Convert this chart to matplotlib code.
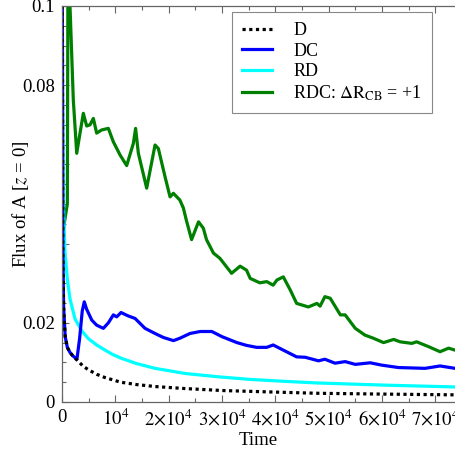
import matplotlib
matplotlib.use("Agg")
import matplotlib.pyplot as plt
from matplotlib.ticker import FixedLocator, MultipleLocator

plt.rcParams["font.family"] = ["Liberation Serif", "DejaVu Serif"]
plt.rcParams["mathtext.fontset"] = "stix"

# D (dotted black)
t_d = [0, 150, 300, 600, 1000, 1500, 2000, 2800, 4000, 5000, 6500, 8000, 11000,
       14000, 17500, 23000, 30000, 40000, 48000, 60000, 74000]
v_d = [0.15, 0.04, 0.024, 0.0165, 0.0138, 0.0125, 0.0117, 0.0106, 0.0090, 0.0081,
       0.0070, 0.0062, 0.0050, 0.0044, 0.0039, 0.0034, 0.0029, 0.0025, 0.0022,
       0.0020, 0.0018]

# DC (blue)
t_dc = [0, 150, 300, 600, 1000, 1500, 2000, 2800, 3300, 3800, 4180, 4600, 5570,
        6500, 7750, 8700, 9630, 10260, 11070, 12300, 13700, 15570, 17450, 19000,
        20900, 22100, 24000, 25900, 28100, 30000, 32800, 34600, 36500, 38400,
        39600, 41500, 44000, 45600, 48100, 49300, 51200, 53100, 55000, 57800,
        60000, 63100, 68100, 70900, 73700]
v_dc = [0.15, 0.04, 0.024, 0.0165, 0.0138, 0.0125, 0.0117, 0.0108, 0.016, 0.023,
        0.0253, 0.0235, 0.0207, 0.0194, 0.0186, 0.0200, 0.0220, 0.0215, 0.0226,
        0.0218, 0.0211, 0.0186, 0.0173, 0.0163, 0.0155, 0.0161, 0.0173, 0.0178,
        0.0178, 0.0165, 0.0150, 0.0143, 0.0138, 0.0138, 0.0144, 0.0131, 0.0114,
        0.0113, 0.0104, 0.0108, 0.0098, 0.0102, 0.0095, 0.0099, 0.0093, 0.0087,
        0.0085, 0.0091, 0.0085]

# RD (cyan)
t_rd = [0, 100, 250, 560, 1000, 1500, 2440, 3690, 4940, 6500, 8070, 9500, 11200,
        14000, 17450, 23100, 29000, 35300, 42000, 48000, 55000, 62000, 68000, 73700]
v_rd = [0.15, 0.08, 0.05, 0.038, 0.031, 0.026, 0.021, 0.018, 0.016, 0.0144, 0.0131,
        0.0120, 0.0110, 0.0097, 0.0085, 0.0072, 0.0064, 0.0057, 0.0052, 0.0048,
        0.0045, 0.0042, 0.0040, 0.0038]

# RDC (green)
t_rdc = [300, 1000, 1150, 1500, 2120, 2760, 3380, 4000, 4630, 5250, 5880,
         6500, 7440, 8690, 9630, 10880, 12130, 13380, 13800, 14320, 15880, 17450,
         18070, 19320, 20260, 20890, 22100, 22760, 23300, 24300, 25600, 26500,
         27100, 28400, 29600, 31800, 33400, 34600, 35300, 37100, 38400, 39600,
         40300, 41500, 42800, 44000, 46200, 47800, 48400, 49300, 50300, 52200,
         53100, 55000, 56800, 58400, 60300, 62200, 63400, 65600, 66500, 68700,
         70900, 72500, 73700]
v_rdc = [0.044, 0.050, 0.125, 0.100, 0.0763, 0.0628, 0.0679, 0.0729, 0.0697,
         0.0700, 0.0716, 0.0679, 0.0687, 0.0691, 0.0657, 0.0624, 0.0597, 0.0653,
         0.0691, 0.0628, 0.0540, 0.0649, 0.0640, 0.0569, 0.0518, 0.0527, 0.0510,
         0.0490, 0.0460, 0.0410, 0.0455, 0.0439, 0.0410, 0.0376, 0.0363, 0.0325,
         0.0343, 0.0333, 0.0312, 0.0301, 0.0304, 0.0295, 0.0308, 0.0316, 0.0283,
         0.0249, 0.0240, 0.0249, 0.0242, 0.0266, 0.0262, 0.0220, 0.0220, 0.0186,
         0.0169, 0.0161, 0.0150, 0.0158, 0.0152, 0.0148, 0.0152, 0.0140, 0.0127,
         0.0136, 0.0131]

x_ticks = [0, 10000, 20000, 30000, 40000, 50000, 60000, 70000]
x_labels = ["0", r"$10^4$", r"$2{\times}10^4$", r"$3{\times}10^4$", r"$4{\times}10^4$",
            r"$5{\times}10^4$", r"$6{\times}10^4$", r"$7{\times}10^4$"]
y_ticks = [0, 0.02, 0.04, 0.06, 0.08, 0.1]
y_labels = ["0", "0.02", "", "", "0.08", "0.1"]

fig = plt.figure(figsize=(4.55, 4.57), dpi=100)
ax = fig.add_axes([62 / 455, 55 / 457, 1 - 62 / 455, 396 / 457])

lw = 2.3
l4, = ax.plot(t_rdc, v_rdc, color="#008000", lw=lw)
l3, = ax.plot(t_rd, v_rd, color="#00ffff", lw=lw)
l2, = ax.plot(t_dc, v_dc, color="#0000ff", lw=lw)
l1, = ax.plot(t_d, v_d, color="black", lw=lw, linestyle=(0, (1, 1.1)))

ax.set_xlim(0, 73700)
ax.set_ylim(0, 0.1)

ax.xaxis.set_major_locator(FixedLocator(x_ticks))
ax.set_xticklabels(x_labels)
ax.xaxis.set_minor_locator(MultipleLocator(5000))
ax.yaxis.set_major_locator(FixedLocator(y_ticks))
ax.set_yticklabels(y_labels)
ax.yaxis.set_minor_locator(MultipleLocator(0.005))

ax.tick_params(which="both", direction="in", top=True, right=False,
               color="#666666", labelsize=13.5, pad=5)
ax.tick_params(which="major", length=5, width=0.8)
ax.tick_params(which="minor", length=3, width=0.8)

for side in ["left", "bottom", "top"]:
    ax.spines[side].set_color("#666666")
    ax.spines[side].set_linewidth(0.9)
ax.spines["right"].set_visible(False)

ax.set_xlabel("Time", fontsize=13.5, labelpad=2)
ax.set_ylabel(r"Flux of A [$z$ = 0]", fontsize=13.5)
ax.yaxis.set_label_coords(-0.078, 0.5)

leg = ax.legend([l1, l2, l3, l4],
                ["D", "DC", "RD", r"RDC: $\Delta\mathrm{R}_{\mathrm{CB}}$ = +1"],
                loc="upper left", bbox_to_anchor=((232 - 62) / 393, (402 - 12) / 396),
                bbox_transform=ax.transAxes, fontsize=13, frameon=True,
                fancybox=False, edgecolor="#888888", framealpha=1,
                handlelength=1.65, handletextpad=1.2, labelspacing=0.2,
                borderpad=0.55, borderaxespad=0)
leg.get_frame().set_linewidth(0.8)

fig.savefig("out.png", dpi=100)
